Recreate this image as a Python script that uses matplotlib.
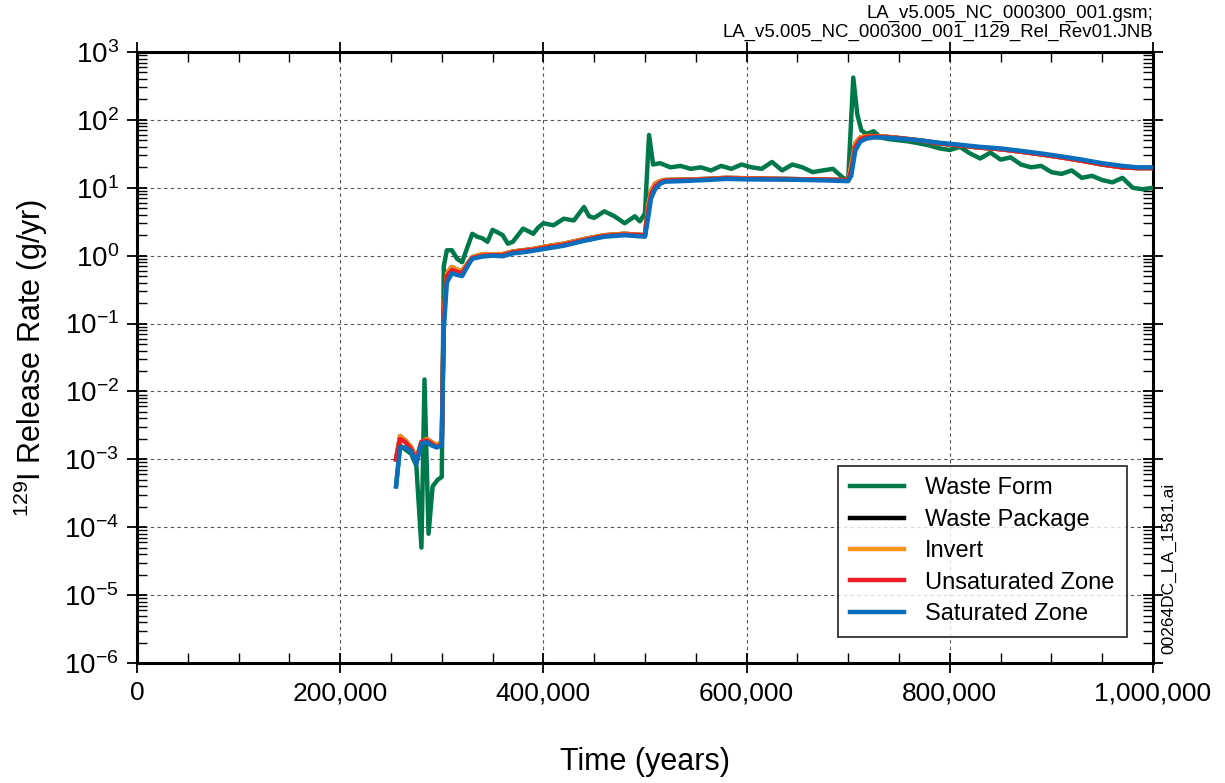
import numpy as np
import matplotlib
matplotlib.use("Agg")
import matplotlib.pyplot as plt
from matplotlib.ticker import LogLocator, LogFormatterMathtext, MultipleLocator, FuncFormatter, NullFormatter

plt.rcParams['font.family'] = ['Liberation Sans', 'DejaVu Sans']
plt.rcParams['mathtext.fontset'] = 'custom'
plt.rcParams['mathtext.rm'] = 'Liberation Sans'
plt.rcParams['mathtext.it'] = 'Liberation Sans:italic'

# waste form release (g/yr)
t_wf = [255e3, 259e3, 264e3, 270e3, 275e3, 280e3, 283e3, 287e3, 291e3, 296e3, 300e3,
        302e3, 305e3, 310e3, 315e3, 320e3, 325e3, 330e3, 335e3, 340e3, 345e3, 350e3,
        355e3, 360e3, 365e3, 370e3, 375e3, 380e3, 385e3, 390e3, 395e3, 400e3, 410e3,
        420e3, 430e3, 440e3, 445e3, 450e3, 460e3, 470e3, 480e3, 490e3, 495e3, 500e3,
        504e3, 508e3, 515e3, 525e3, 535e3, 545e3, 555e3, 565e3, 575e3, 585e3, 595e3,
        605e3, 615e3, 625e3, 635e3, 645e3, 655e3, 665e3, 675e3, 685e3, 695e3, 700e3,
        705e3, 709e3, 713e3, 718e3, 725e3, 732e3, 740e3, 750e3, 760e3, 770e3, 780e3,
        790e3, 800e3, 810e3, 820e3, 830e3, 840e3, 850e3, 860e3, 870e3, 880e3, 890e3,
        900e3, 910e3, 920e3, 930e3, 940e3, 950e3, 960e3, 970e3, 980e3, 990e3, 1000e3]
wf = [4e-4, 1.6e-3, 1.4e-3, 1.2e-3, 8e-4, 5e-5, 1.5e-2, 8e-5, 4e-4, 5e-4, 5.5e-4,
      0.7, 1.2, 1.2, 0.9, 0.8, 1.3, 2.1, 1.9, 1.8, 1.6, 2.4,
      2.2, 2.0, 1.5, 1.6, 2.0, 2.5, 2.3, 2.1, 2.6, 3.0, 2.8,
      3.5, 3.3, 5.2, 3.8, 3.6, 4.5, 3.8, 3.0, 3.8, 3.2, 4.2,
      60, 22, 23, 20, 21, 19, 20, 18, 21, 19, 22,
      20, 19, 24, 18, 22, 20, 17, 18, 19, 14, 13,
      420, 120, 70, 62, 68, 55, 52, 50, 48, 45, 42,
      38, 36, 40, 32, 27, 33, 26, 28, 22, 20, 21,
      17, 16, 18, 14, 15, 13, 12, 14, 10, 9.5, 10]

# release from engineered barrier / natural barrier components (g/yr)
t_eb = [255e3, 259e3, 264e3, 270e3, 275e3, 280e3, 285e3, 290e3, 295e3, 300e3,
        302e3, 305e3, 310e3, 315e3, 320e3, 325e3, 330e3, 340e3, 350e3, 360e3,
        370e3, 380e3, 390e3, 400e3, 420e3, 440e3, 460e3, 480e3, 500e3,
        503e3, 506e3, 510e3, 515e3, 520e3, 540e3, 560e3, 580e3, 600e3, 620e3,
        640e3, 660e3, 680e3, 700e3, 703e3, 707e3, 712e3, 718e3, 725e3, 735e3,
        750e3, 770e3, 790e3, 810e3, 830e3, 850e3, 870e3, 890e3, 910e3, 930e3,
        950e3, 970e3, 985e3, 1000e3]
invert = [1.0e-3, 2.2e-3, 1.9e-3, 1.5e-3, 1.0e-3, 1.8e-3, 2.0e-3, 1.8e-3, 1.6e-3, 1.8e-3,
          0.15, 0.55, 0.68, 0.62, 0.60, 0.75, 0.95, 1.05, 1.05, 1.05,
          1.15, 1.2, 1.25, 1.35, 1.5, 1.75, 2.0, 2.1, 2.0,
          5.5, 9.0, 11.5, 12.5, 13.0, 13.2, 13.5, 14, 13.8, 13.6,
          13.5, 13.3, 13.2, 13.0, 22, 45, 55, 58, 58, 57,
          54, 50, 45, 42, 39, 37, 34, 31, 28, 25,
          22, 20, 19.5, 19.5]
unsat = [1.0e-3, 2.0e-3, 1.8e-3, 1.4e-3, 9.5e-4, 1.8e-3, 1.9e-3, 1.7e-3, 1.5e-3, 1.7e-3,
         0.12, 0.5, 0.62, 0.58, 0.55, 0.72, 0.92, 1.0, 1.02, 1.02,
         1.12, 1.18, 1.22, 1.3, 1.45, 1.7, 1.95, 2.05, 2.0,
         4.5, 8.0, 10.5, 12.0, 12.8, 13.0, 13.3, 13.8, 13.6, 13.5,
         13.4, 13.2, 13.1, 12.9, 18, 40, 52, 56, 57, 56,
         54, 50, 45, 42, 39, 37, 34, 31, 28, 25,
         22, 20, 19.5, 19.5]
sat = [4e-4, 1.5e-3, 1.5e-3, 1.3e-3, 8.5e-4, 1.7e-3, 1.8e-3, 1.6e-3, 1.5e-3, 1.6e-3,
       0.08, 0.4, 0.55, 0.52, 0.5, 0.68, 0.9, 0.97, 1.0, 0.98,
       1.08, 1.12, 1.18, 1.25, 1.4, 1.65, 1.9, 2.0, 1.9,
       3.5, 7.0, 9.5, 11.5, 12.3, 12.6, 13.0, 13.5, 13.3, 13.2,
       13.2, 13.0, 12.8, 12.5, 15, 35, 48, 53, 55, 55,
       53, 50, 46, 43, 40, 38, 35, 32, 29, 26,
       23, 21, 20, 20]
wp = invert

fig = plt.figure(figsize=(12.25, 7.83), dpi=100)
ax = fig.add_axes([0.1118, 0.1533, 0.8294, 0.7803])

lw = 3.2
ax.plot(t_wf, wf, color='#00794A', lw=lw, label='Waste Form', zorder=3)
ax.plot(t_eb, wp, color='black', lw=lw, label='Waste Package', zorder=4)
ax.plot(t_eb, invert, color='#F7941D', lw=lw, label='Invert', zorder=5)
ax.plot(t_eb, unsat, color='#ED1C24', lw=lw, label='Unsaturated Zone', zorder=6)
ax.plot(t_eb, sat, color='#0A6EBD', lw=lw, label='Saturated Zone', zorder=7)

ax.set_yscale('log')
ax.set_xlim(0, 1e6)
ax.set_ylim(1e-6, 1e3)

ax.xaxis.set_major_locator(MultipleLocator(200000))
ax.xaxis.set_minor_locator(MultipleLocator(50000))
ax.xaxis.set_major_formatter(FuncFormatter(lambda v, p: f"{int(v):,}"))
ax.yaxis.set_major_locator(LogLocator(base=10, numticks=20))
ax.yaxis.set_minor_locator(LogLocator(base=10, subs=np.arange(2, 10), numticks=20))
ax.yaxis.set_major_formatter(LogFormatterMathtext())
ax.yaxis.set_minor_formatter(NullFormatter())

ax.tick_params(which='major', direction='inout', length=14, width=1.3, labelsize=19,
               top=True, right=True, pad=6)
ax.tick_params(which='minor', direction='in', length=7, width=1.0, top=True, right=True)
ax.tick_params(axis='y', which='major', labelsize=20)

ax.grid(True, which='major', linestyle=(0, (3, 3)), color='#555555', linewidth=0.8)
for s in ax.spines.values():
    s.set_linewidth(2.2)

ax.set_xlabel('Time (years)', fontsize=22, labelpad=30)
ax.set_ylabel(r'$^{129}$I Release Rate (g/yr)', fontsize=22, labelpad=10)

leg = ax.legend(loc='lower right', bbox_to_anchor=(0.974, 0.0425), fontsize=17,
                frameon=True, fancybox=False, handlelength=2.3, borderpad=0.5,
                labelspacing=0.4, handletextpad=0.9, borderaxespad=0)
leg.get_frame().set_edgecolor('black')
leg.get_frame().set_linewidth(1.3)

fig.text(0.9412, 0.994, 'LA_v5.005_NC_000300_001.gsm;\nLA_v5.005_NC_000300_001_I129_Rel_Rev01.JNB',
         ha='right', va='top', fontsize=13.4, linespacing=1.15)
fig.text(0.948, 0.165, '00264DC_LA_1581.ai', rotation=90, ha='left', va='bottom', fontsize=12.5)

fig.savefig('out.png', dpi=100)
